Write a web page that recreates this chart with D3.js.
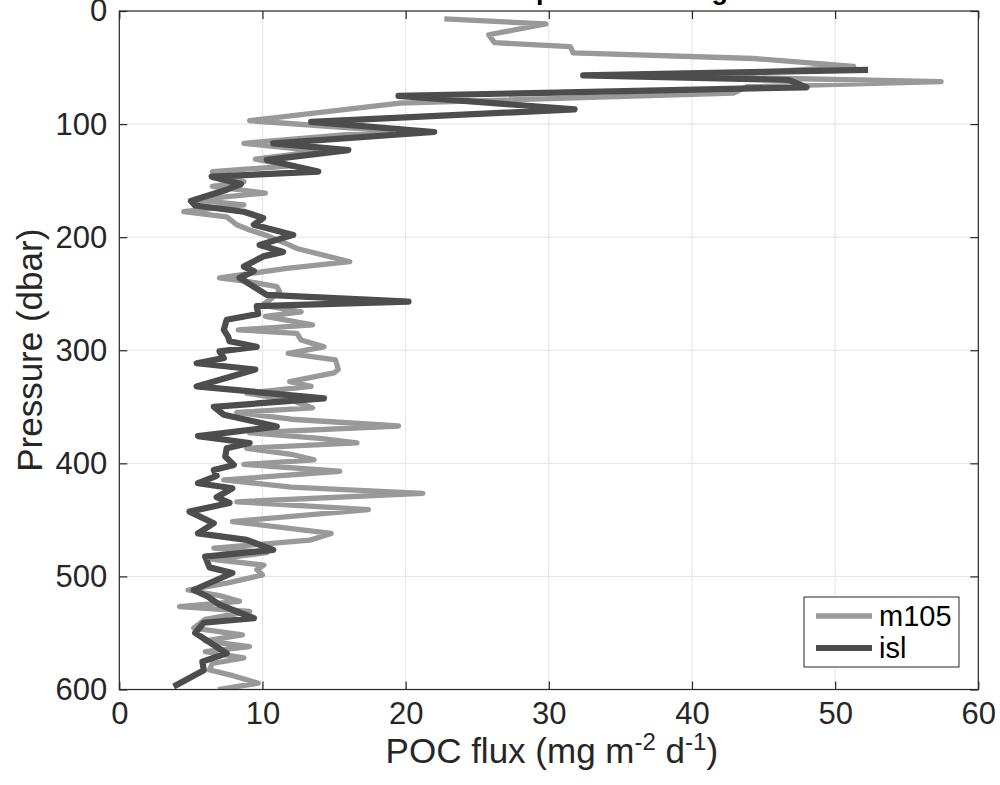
<!DOCTYPE html>
<html>
<head>
<meta charset="utf-8">
<script src="https://cdn.jsdelivr.net/npm/d3@7"></script>
<style>
  html, body { margin: 0; padding: 0; background: #ffffff; }
  svg { display: block; }
  text { font-family: "Liberation Sans", Arial, Helvetica, sans-serif; }
</style>
</head>
<body>
<svg id="chart" width="1000" height="785"></svg>
<script>
// ---------------- data ----------------
const seriesNames = ["m105", "isl"];
const xTicks = [0, 10, 20, 30, 40, 50, 60];
const yTicks = [0, 100, 200, 300, 400, 500, 600];
const titleText = "Mean POC flux profiles averaged";
const xLabelParts = ["POC flux (mg m", "-2", " d", "-1", ")"];
const yLabelText = "Pressure (dbar)";

const pressureM105 = [7, 11.5, 21, 28, 31.5, 37, 42, 49, 58, 62.5, 67, 72.7, 81.5, 97, 106, 117, 124, 131, 137, 142,
  151, 155, 161, 167, 171.5, 177.5, 182, 189, 193.6, 199.5, 207, 210, 221.7, 227.5, 236, 239, 243.7, 248, 255.6, 260,
  266, 270, 277.6, 282, 285, 291, 297, 302.7, 308.6, 317, 320, 327.8, 332, 338, 344, 351, 355, 361, 367, 373,
  378, 382, 386.7, 392, 397, 401, 407, 414.7, 421, 426.5, 434, 441, 451.5, 462, 468, 475, 479, 485, 490, 494,
  498.7, 506, 512, 517, 522, 526.7, 531, 538, 545.8, 551.7, 557, 562, 566.5, 572, 577, 582.7, 588, 594.4, 600];
const fluxM105 = [22.7, 29.8, 25.8, 26.2, 31.5, 31.7, 44.3, 51.3, 40, 57.4, 43.8, 42.9, 19.6, 9.1, 19, 8.7, 14, 9.5, 12, 6.5,
  8.7, 6.5, 10.2, 5.2, 8.7, 4.5, 7.5, 8.2, 9.1, 10.5, 11.9, 12.4, 16.1, 11.7, 7.0, 8.9, 11, 11.2, 10.5, 10,
  12.7, 10.2, 13.5, 8.3, 12.4, 12.7, 14.3, 11.8, 15.1, 15.3, 15.0, 11.9, 13.4, 8.9, 12, 13.5, 8.2, 12, 19.5, 9.1,
  14, 16.6, 8.9, 12, 13.6, 8.7, 15.4, 7.3, 12, 21.2, 8.2, 17.4, 7.9, 14.8, 13.3, 6.6, 10.3, 6.5, 10.1, 9.6,
  10, 7.5, 4.8, 7, 8.4, 4.2, 9.1, 6, 5.2, 8.6, 6, 9.1, 6, 8.7, 6.5, 6.3, 8, 9.7, 6.9];

const pressureIsl = [52, 57, 61, 67.5, 75, 87, 98, 107, 117, 123, 131.7, 142, 146.5, 153, 158, 168, 172, 177.5, 183, 189,
  198, 207, 213, 217, 226, 230, 236, 251, 257, 261, 268, 273, 282, 288, 292, 297, 301, 307, 311.5, 317,
  332, 342.5, 350, 357, 367.5, 376, 382, 386.7, 394, 401.4, 406, 411, 417.6, 422, 430, 435, 442.7, 453, 462, 467.7,
  476.6, 482.5, 492, 497, 512, 518, 525, 537, 541, 550, 568, 575.3, 583, 597.4];
const fluxIsl = [52.3, 32.4, 46.8, 48, 19.5, 31.8, 13.4, 22, 10.75, 16, 10.3, 13.9, 6.45, 8.5, 7.5, 5.0, 5.3, 8.7, 10.05, 9.4,
  12.15, 9.8, 11.45, 10.05, 8.7, 9.4, 8.4, 10.3, 20.2, 9.6, 9.7, 7.5, 7.3, 7.6, 7.7, 9.6, 7.0, 7.3, 5.4, 9.5,
  5.4, 14.3, 6.6, 7.3, 11, 5.5, 9.1, 7.5, 7.4, 8.0, 6.6, 6.8, 5.5, 7.9, 6.8, 7.7, 4.9, 6.6, 5.5, 8.9,
  10.75, 6, 6.3, 7.9, 5.2, 6.2, 7, 9.4, 5.9, 5.3, 7.5, 5.8, 5.9, 3.8];

// ---------------- layout ----------------
const svg = d3.select("#chart");
const L = 119.3, R = 978.3, T = 11, B = 689.5;
const x = d3.scaleLinear().domain([0, 60]).range([L, R]);
const y = d3.scaleLinear().domain([0, 600]).range([T, B]);

const axisColor = "#262626";
const gridColor = "#e3e3e3";
const colors = { m105: "#999999", isl: "#4d4d4d" };
const widths = { m105: 5.3, isl: 6.2 };

// plot background
svg.append("rect").attr("x", L).attr("y", T).attr("width", R - L).attr("height", B - T).attr("fill", "#fff");

// grid
const grid = svg.append("g");
grid.selectAll("line.gx").data(xTicks.slice(1, -1)).join("line")
  .attr("x1", d => x(d)).attr("x2", d => x(d)).attr("y1", T).attr("y2", B)
  .attr("stroke", gridColor).attr("stroke-width", 1);
grid.selectAll("line.gy").data(yTicks.slice(1, -1)).join("line")
  .attr("x1", L).attr("x2", R).attr("y1", d => y(d)).attr("y2", d => y(d))
  .attr("stroke", gridColor).attr("stroke-width", 1);

// lines
const makeSeries = (ps, vs) => ps.map((p, i) => ({ p, v: vs[i] }));
const data = {
  m105: makeSeries(pressureM105, fluxM105),
  isl: makeSeries(pressureIsl, fluxIsl)
};
const line = d3.line().x(d => x(d.v)).y(d => y(d.p));
const clip = svg.append("clipPath").attr("id", "clip").append("rect")
  .attr("x", L).attr("y", T).attr("width", R - L).attr("height", B - T);
const lines = svg.append("g").attr("clip-path", "url(#clip)");
seriesNames.forEach(name => {
  lines.append("path").datum(data[name])
    .attr("d", line)
    .attr("fill", "none")
    .attr("stroke", colors[name])
    .attr("stroke-width", widths[name])
    .attr("stroke-linejoin", "round")
    .attr("stroke-linecap", "butt");
});

// axes
const fs = 31;
const styleAxis = g => {
  g.select(".domain").remove();
  g.selectAll(".tick line").attr("stroke", axisColor).attr("stroke-width", 1.2);
  g.selectAll(".tick text").attr("fill", axisColor).style("font-size", fs + "px")
    .style("font-family", '"Liberation Sans", Arial, sans-serif');
};
svg.append("g").attr("transform", `translate(0,${B})`)
  .call(d3.axisBottom(x).tickValues(xTicks).tickFormat(d3.format("d")).tickSizeInner(-8).tickSizeOuter(0).tickPadding(12))
  .call(styleAxis);
svg.append("g").attr("transform", `translate(0,${T})`)
  .call(d3.axisTop(x).tickValues(xTicks).tickFormat("").tickSizeInner(-8).tickSizeOuter(0))
  .call(styleAxis);
svg.append("g").attr("transform", `translate(${L},0)`)
  .call(d3.axisLeft(y).tickValues(yTicks).tickFormat(d3.format("d")).tickSizeInner(-8).tickSizeOuter(0).tickPadding(12))
  .call(styleAxis);
svg.append("g").attr("transform", `translate(${R},0)`)
  .call(d3.axisRight(y).tickValues(yTicks).tickFormat("").tickSizeInner(-8).tickSizeOuter(0))
  .call(styleAxis);

// box
svg.append("rect").attr("x", L).attr("y", T).attr("width", R - L).attr("height", B - T)
  .attr("fill", "none").attr("stroke", axisColor).attr("stroke-width", 1.2);

// title (mostly outside the window, as in the reference)
svg.append("text").attr("x", (L + R) / 2).attr("y", -1)
  .attr("text-anchor", "middle").attr("font-weight", "bold")
  .style("font-size", "27px").attr("fill", "#000").text(titleText);

// x label
const xl = svg.append("text").attr("x", (L + R) / 2 + 3).attr("y", 763)
  .attr("text-anchor", "middle").attr("fill", axisColor).style("font-size", "35px");
xLabelParts.forEach((t, i) => {
  const sup = i === 1 || i === 3;
  const ts = xl.append("tspan").text(t);
  if (sup) ts.style("font-size", "24px").attr("dy", -13);
  else if (i > 0) ts.attr("dy", 13);
});

// y label
svg.append("text").attr("transform", `translate(42,${(T + B) / 2}) rotate(-90)`)
  .attr("text-anchor", "middle").attr("fill", axisColor).style("font-size", "35px")
  .text(yLabelText);

// legend
const lg = svg.append("g");
lg.append("rect").attr("x", 804).attr("y", 597).attr("width", 155).attr("height", 70)
  .attr("fill", "#fff").attr("stroke", axisColor).attr("stroke-width", 1);
seriesNames.forEach((name, i) => {
  const yy = 616 + i * 32;
  lg.append("line").attr("x1", 816).attr("x2", 872).attr("y1", yy).attr("y2", yy)
    .attr("stroke", colors[name]).attr("stroke-width", widths[name]);
  lg.append("text").attr("x", 879).attr("y", yy).attr("dy", "0.35em")
    .attr("fill", "#000").style("font-size", "29px").text(name);
});
</script>
</body>
</html>
